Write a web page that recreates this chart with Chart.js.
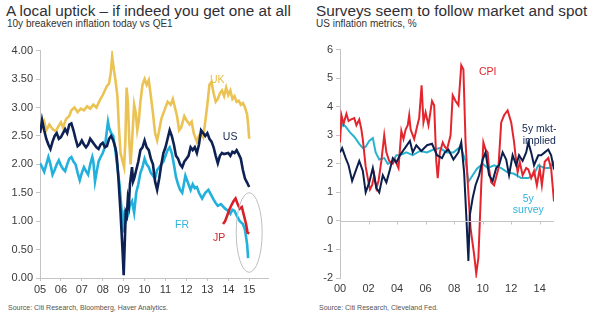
<!DOCTYPE html>
<html>
<head>
<meta charset="utf-8">
<script src="https://cdn.jsdelivr.net/npm/chart.js@4.4.0/dist/chart.umd.min.js"></script>
<style>
  body { margin: 0; background: #fff; font-family: "Liberation Sans", Arial, sans-serif; color: #333; }
  #wrap { position: relative; width: 600px; height: 322px; overflow: hidden; }
  .title { position: absolute; font-size: 15.3px; color: #2f2f35; white-space: nowrap; }
  .sub { position: absolute; font-size: 10px; color: #333; white-space: nowrap; }
  .src { position: absolute; font-size: 7px; color: #555; white-space: nowrap; }
  .box { position: absolute; top: 40px; width: 300px; height: 262px; }
</style>
</head>
<body>
<div id="wrap">
  <div class="title" style="left:6px;top:2px">A local uptick – if indeed you get one at all</div>
  <div class="sub" style="left:7px;top:18px">10y breakeven inflation today vs QE1</div>
  <div class="title" style="left:316px;top:2px">Surveys seem to follow market and spot</div>
  <div class="sub" style="left:316px;top:18px">US inflation metrics, %</div>
  <div class="box" style="left:0"><canvas id="left"></canvas></div>
  <div class="box" style="left:300px"><canvas id="right"></canvas></div>
  <div class="src" style="left:8px;top:304px">Source: Citi Research, Bloomberg, Haver Analytics.</div>
  <div class="src" style="left:319px;top:304px">Source: Citi Research, Cleveland Fed.</div>
</div>
<script>
// ---- left chart: 10y breakevens ----
const leftYearTicks = [2005, 2006, 2007, 2008, 2009, 2010, 2011, 2012, 2013, 2014, 2015];
const leftValueTicks = [0, 0.5, 1, 1.5, 2, 2.5, 3, 3.5, 4];

const ukYears = [2005.0, 2005.1, 2005.2, 2005.3, 2005.45, 2005.6, 2005.75, 2005.9, 2006.0, 2006.1, 2006.25, 2006.4, 2006.5, 2006.65, 2006.8, 2006.95,
  2007.1, 2007.25, 2007.4, 2007.55, 2007.7, 2007.85, 2008.0, 2008.1, 2008.2, 2008.3, 2008.38, 2008.45, 2008.52, 2008.6, 2008.7, 2008.78, 2008.85, 2008.95,
  2009.02, 2009.08, 2009.14, 2009.2, 2009.27, 2009.33, 2009.4, 2009.5, 2009.58, 2009.65, 2009.72, 2009.8, 2009.9, 2010.0, 2010.1, 2010.2, 2010.3, 2010.4,
  2010.5, 2010.6, 2010.7, 2010.8, 2010.95, 2011.1, 2011.25, 2011.35, 2011.45, 2011.55, 2011.65, 2011.75, 2011.9, 2012.0, 2012.15, 2012.25, 2012.35, 2012.5,
  2012.6, 2012.7, 2012.8, 2012.9, 2013.0, 2013.1, 2013.2, 2013.3, 2013.4, 2013.5, 2013.6, 2013.7, 2013.8, 2013.9, 2014.0, 2014.1, 2014.2, 2014.3, 2014.4,
  2014.5, 2014.6, 2014.7, 2014.8, 2014.9, 2014.95, 2015.0];
const ukValues = [2.72, 2.65, 2.75, 2.6, 2.7, 2.62, 2.58, 2.68, 2.74, 2.65, 2.8, 2.85, 2.95, 3.0, 2.92, 2.98,
  2.95, 3.02, 2.98, 3.05, 3.0, 3.12, 3.22, 3.3, 3.38, 3.42, 3.6, 3.9, 3.7, 3.5, 3.2, 2.6, 2.2, 2.05,
  1.95, 2.4, 3.35, 3.1, 2.4, 2.0, 2.4, 3.05, 2.9, 2.6, 2.75, 3.1, 3.4, 3.5, 3.4, 3.48, 3.2, 2.9,
  2.55, 2.42, 2.6, 2.8, 2.95, 3.1, 3.05, 3.15, 3.0, 2.85, 2.6, 2.65, 2.85, 2.78, 2.7, 2.75, 2.55, 2.4,
  2.5, 2.55, 2.48, 2.75, 3.05, 3.4, 3.45, 3.25, 3.1, 3.15, 3.25, 3.3, 3.2, 3.35, 3.22, 3.3, 3.15, 3.2, 3.1,
  3.12, 3.05, 3.08, 3.0, 2.88, 2.7, 2.45];

const usYears = [2005.0, 2005.05, 2005.1, 2005.2, 2005.3, 2005.4, 2005.5, 2005.6, 2005.7, 2005.8, 2005.9, 2006.0, 2006.1, 2006.2, 2006.3, 2006.4,
  2006.5, 2006.6, 2006.7, 2006.8, 2006.9, 2007.0, 2007.1, 2007.2, 2007.3, 2007.4, 2007.5, 2007.6, 2007.7, 2007.8, 2007.9, 2008.0, 2008.1, 2008.2,
  2008.3, 2008.4, 2008.5, 2008.6, 2008.65, 2008.7, 2008.75, 2008.8, 2008.85, 2008.9, 2008.95, 2009.0, 2009.05, 2009.1, 2009.15, 2009.2, 2009.25,
  2009.3, 2009.35, 2009.4, 2009.45, 2009.5, 2009.6, 2009.7, 2009.8, 2009.9, 2010.0, 2010.1, 2010.2, 2010.3, 2010.4, 2010.5, 2010.6, 2010.7, 2010.8,
  2010.9, 2011.0, 2011.1, 2011.2, 2011.3, 2011.4, 2011.5, 2011.6, 2011.7, 2011.8, 2011.9, 2012.0, 2012.1, 2012.2, 2012.3, 2012.4, 2012.5, 2012.6,
  2012.7, 2012.8, 2012.9, 2013.0, 2013.1, 2013.2, 2013.3, 2013.4, 2013.5, 2013.6, 2013.7, 2013.8, 2014.0, 2014.1, 2014.2, 2014.3, 2014.4, 2014.5,
  2014.6, 2014.7, 2014.8, 2014.9, 2015.0];
const usValues = [2.55, 2.65, 2.78, 2.6, 2.45, 2.35, 2.27, 2.4, 2.5, 2.55, 2.45, 2.48, 2.55, 2.62, 2.55, 2.7,
  2.72, 2.6, 2.45, 2.32, 2.35, 2.42, 2.35, 2.3, 2.35, 2.45, 2.4, 2.35, 2.3, 2.27, 2.35, 2.38, 2.3, 2.32,
  2.45, 2.5, 2.42, 2.3, 2.2, 2.0, 1.75, 1.45, 1.15, 0.8, 0.45, 0.05, 0.6, 1.15, 1.1, 1.4, 1.3,
  1.65, 1.8, 1.95, 1.7, 1.75, 1.9, 2.05, 2.25, 2.3, 2.42, 2.3, 2.25, 2.1, 2.0, 1.7, 1.55, 1.75, 2.0,
  2.2, 2.3, 2.45, 2.6, 2.5, 2.35, 2.15, 2.1, 2.0, 1.95, 2.05, 2.1, 2.15, 2.3, 2.25, 2.3, 2.2, 2.35,
  2.6, 2.55, 2.5, 2.55, 2.45, 2.4, 2.3, 2.15, 2.02, 2.15, 2.2, 2.18, 2.2, 2.15, 2.22, 2.2, 2.25, 2.18,
  2.1, 1.9, 1.75, 1.68, 1.6];

const frYears = [2005.0, 2005.1, 2005.2, 2005.3, 2005.4, 2005.5, 2005.6, 2005.7, 2005.8, 2005.9, 2006.0, 2006.1, 2006.2, 2006.3, 2006.4, 2006.5,
  2006.6, 2006.7, 2006.8, 2006.9, 2007.0, 2007.1, 2007.2, 2007.3, 2007.4, 2007.5, 2007.55, 2007.63, 2007.7, 2007.8, 2007.9, 2008.0, 2008.1, 2008.2,
  2008.25, 2008.3, 2008.4, 2008.5, 2008.6, 2008.7, 2008.8, 2008.9, 2008.95, 2009.0, 2009.05, 2009.1, 2009.2, 2009.3, 2009.4, 2009.5, 2009.6, 2009.7,
  2009.8, 2009.9, 2010.0, 2010.1, 2010.2, 2010.3, 2010.4, 2010.5, 2010.6, 2010.7, 2010.8, 2010.9, 2011.0, 2011.1, 2011.2, 2011.3, 2011.4, 2011.5,
  2011.6, 2011.7, 2011.8, 2011.9, 2011.95, 2012.1, 2012.2, 2012.3, 2012.4, 2012.5, 2012.6, 2012.75, 2012.9, 2013.05, 2013.2, 2013.3, 2013.4, 2013.5,
  2013.65, 2013.85, 2014.0, 2014.1, 2014.2, 2014.3, 2014.4, 2014.55, 2014.7, 2014.8, 2014.9, 2014.95];
const frValues = [2.02, 1.95, 1.87, 2.0, 2.13, 2.0, 1.82, 1.9, 2.0, 2.07, 1.98, 1.92, 1.88, 2.0, 2.1, 2.13,
  2.05, 2.0, 1.85, 1.72, 1.85, 1.95, 1.88, 1.82, 2.0, 2.13, 2.05, 1.7, 1.85, 2.05, 2.13, 2.2, 2.3, 2.6,
  2.75, 2.65, 2.55, 2.5, 2.25, 1.95, 1.65, 1.2, 0.95, 0.8, 1.2, 1.0, 1.1, 1.28, 1.35, 1.15, 1.5, 1.65,
  1.85, 1.95, 2.1, 2.0, 1.95, 1.85, 1.8, 1.75, 1.9, 1.95, 2.0, 2.05, 2.15, 2.25, 2.3, 2.2, 2.0, 1.78,
  1.65, 1.55, 1.5, 1.7, 1.8, 1.65, 1.55, 1.65, 1.58, 1.6, 1.5, 1.4, 1.5, 1.55, 1.45, 1.38, 1.32, 1.27,
  1.3, 1.22, 1.18, 1.13, 1.2, 1.18, 1.1, 1.0, 0.95, 0.85, 0.6, 0.35];

const jpYears = [2013.75, 2013.85, 2013.95, 2014.05, 2014.15, 2014.25, 2014.35, 2014.45, 2014.55, 2014.65, 2014.75, 2014.85, 2014.92, 2015.0];
const jpValues = [0.95, 1.0, 1.1, 1.2, 1.28, 1.35, 1.4, 1.3, 1.22, 1.25, 1.1, 0.95, 0.8, 0.78];

// ---- right chart: US inflation metrics ----
const rightYearTicks = [2000, 2002, 2004, 2006, 2008, 2010, 2012, 2014];
const rightValueTicks = [-2, -1, 0, 1, 2, 3, 4, 5, 6];

const cpiYears = [2000.0, 2000.1, 2000.25, 2000.45, 2000.6, 2000.75, 2001.0, 2001.15, 2001.35, 2001.5, 2001.6, 2001.8, 2002.0, 2002.1, 2002.25,
  2002.4, 2002.55, 2002.7, 2002.9, 2003.1, 2003.25, 2003.45, 2003.7, 2003.85, 2004.1, 2004.3, 2004.45, 2004.6, 2004.75, 2004.85, 2004.95, 2005.2,
  2005.4, 2005.55, 2005.72, 2005.85, 2006.0, 2006.2, 2006.45, 2006.6, 2006.75, 2006.85, 2007.0, 2007.2, 2007.35, 2007.5, 2007.75, 2007.9, 2008.1,
  2008.3, 2008.5, 2008.65, 2008.8, 2008.95, 2009.15, 2009.4, 2009.55, 2009.7, 2009.9, 2010.05, 2010.2, 2010.35, 2010.45, 2010.6, 2010.8, 2011.1,
  2011.3, 2011.5, 2011.75, 2012.0, 2012.2, 2012.3, 2012.45, 2012.6, 2012.8, 2013.05, 2013.2, 2013.4, 2013.6, 2013.8, 2014.0, 2014.15, 2014.35,
  2014.6, 2014.8, 2015.0];
const cpiValues = [2.75, 3.7, 3.4, 3.75, 3.5, 3.55, 3.6, 3.35, 3.55, 3.2, 2.85, 1.9, 1.35, 1.1, 1.25,
  1.6, 1.15, 1.4, 2.1, 3.0, 2.4, 2.1, 2.0, 2.15, 1.85, 3.15, 2.87, 3.2, 3.35, 3.7, 3.2, 2.87,
  3.3, 3.6, 4.75, 3.45, 3.8, 3.35, 4.2, 4.05, 2.07, 1.5, 2.4, 2.75, 2.6, 2.5, 3.0, 4.4, 4.2,
  4.05, 5.45, 5.3, 2.77, 1.37, -0.25, -1.17, -1.85, -1.3, 1.25, 2.75, 2.5, 2.4, 1.8, 1.35, 1.25, 1.83,
  3.45, 3.7, 3.87, 3.45, 2.77, 2.3, 1.7, 2.07, 1.6, 1.85, 1.8, 1.5, 1.75, 1.25, 1.83, 1.25, 2.07,
  2.2, 1.83, 0.68];

const surveyYears = [2000.0, 2000.2, 2000.4, 2000.7, 2001.0, 2001.35, 2001.6, 2001.8, 2002.05, 2002.3, 2002.5, 2002.75, 2003.1, 2003.35, 2003.7,
  2003.95, 2004.2, 2004.65, 2005.1, 2005.6, 2006.1, 2006.55, 2007.0, 2007.5, 2007.95, 2008.45, 2008.8, 2009.0, 2009.3, 2009.6, 2010.0, 2010.35,
  2010.8, 2011.3, 2011.75, 2012.2, 2012.7, 2013.2, 2013.55, 2013.9, 2014.35, 2014.7, 2015.0];
const surveyValues = [3.2, 3.4, 3.3, 3.1, 2.95, 2.7, 2.55, 2.6, 2.8, 2.9, 2.4, 2.15, 2.2, 2.0, 2.1,
  2.3, 2.3, 2.4, 2.3, 2.45, 2.4, 2.5, 2.55, 2.4, 2.4, 2.6, 2.1, 1.37, 1.6, 1.83, 2.0, 1.85,
  1.95, 1.85, 1.7, 1.65, 1.5, 1.5, 1.6, 1.95, 1.85, 1.85, 2.1];

const mktYears = [2000.0, 2000.15, 2000.4, 2000.6, 2000.85, 2001.1, 2001.35, 2001.6, 2001.8, 2002.05, 2002.3, 2002.55, 2002.75, 2003.0, 2003.25,
  2003.5, 2003.7, 2003.95, 2004.2, 2004.55, 2004.9, 2005.1, 2005.35, 2005.7, 2006.1, 2006.45, 2006.8, 2007.15, 2007.35, 2007.6, 2007.95, 2008.3,
  2008.5, 2008.7, 2008.85, 2009.0, 2009.1, 2009.3, 2009.5, 2009.75, 2010.0, 2010.2, 2010.45, 2010.7, 2010.95, 2011.15, 2011.4, 2011.65, 2011.85,
  2012.1, 2012.35, 2012.55, 2012.8, 2013.05, 2013.2, 2013.4, 2013.6, 2013.9, 2014.1, 2014.35, 2014.6, 2014.8, 2015.0];
const mktValues = [2.4, 2.55, 2.2, 1.95, 1.4, 1.75, 2.1, 1.75, 1.0, 1.35, 1.85, 1.15, 1.0, 1.6, 1.35,
  1.8, 2.2, 2.05, 2.3, 2.55, 2.8, 2.4, 2.65, 2.45, 2.65, 2.7, 2.3, 2.2, 2.4, 2.5, 2.15, 2.4,
  2.75, 1.7, 0.2, -1.4, 0.2, 0.8, 1.25, 1.6, 2.15, 2.4, 1.6, 1.4, 1.85, 1.95, 2.4, 2.15, 1.6,
  2.3, 1.95, 2.3, 2.1, 2.4, 2.75, 2.4, 1.95, 2.3, 2.3, 2.4, 2.5, 2.3, 1.8];

const axisGrey = '#c4c4c4';
Chart.defaults.font.family = '"Liberation Sans", Arial, sans-serif';
Chart.defaults.font.size = 11;
Chart.defaults.color = '#3a3a3a';

function pairs(xs, ys) {
    return xs.map((x, i) => ({x: x, y: ys[i]}));
}

// text labels, ellipse and zero line drawn in data coordinates
const notesPlugin = {
    id: 'notes',
    afterDatasetsDraw(chart, args, opts) {
        const ctx = chart.ctx;
        const xs = chart.scales.x, ys = chart.scales.y;
        ctx.save();
        if (opts.zeroLine) {
            const y0 = Math.round(ys.getPixelForValue(0)) + 0.5;
            ctx.strokeStyle = axisGrey;
            ctx.lineWidth = 1;
            ctx.beginPath();
            ctx.moveTo(chart.chartArea.left, y0);
            ctx.lineTo(chart.chartArea.right, y0);
            opts.zeroTicks.forEach(v => {
                const x = Math.round(xs.getPixelForValue(v)) + 0.5;
                ctx.moveTo(x, y0);
                ctx.lineTo(x, y0 + 3);
            });
            ctx.stroke();
        }
        if (opts.ellipse) {
            const e = opts.ellipse;
            const cx = xs.getPixelForValue(e.x), cy = ys.getPixelForValue(e.y);
            const rx = Math.abs(xs.getPixelForValue(e.x + e.rx) - cx);
            const ry = Math.abs(ys.getPixelForValue(e.y + e.ry) - cy);
            ctx.strokeStyle = '#bdbdbd';
            ctx.lineWidth = 1;
            ctx.beginPath();
            ctx.ellipse(cx, cy, rx, ry, 0, 0, Math.PI * 2);
            ctx.stroke();
        }
        ctx.font = '10.5px "Liberation Sans", Arial, sans-serif';
        ctx.textAlign = 'center';
        ctx.textBaseline = 'middle';
        (opts.labels || []).forEach(l => {
            ctx.fillStyle = l.color;
            ctx.fillText(l.text, xs.getPixelForValue(l.x), ys.getPixelForValue(l.y));
        });
        ctx.restore();
    }
};

function lineSet(label, xs, ys, color, width) {
    return {
        label: label,
        data: pairs(xs, ys),
        borderColor: color,
        backgroundColor: color,
        borderWidth: width,
        pointRadius: 0,
        tension: 0
    };
}

function baseOptions(xMin, xMax, xTicks, yMin, yMax, yTicks, yLabel, padding) {
    return {
        responsive: true,
        maintainAspectRatio: false,
        animation: false,
        layout: {padding: padding},
        plugins: {legend: {display: false}, tooltip: {enabled: false}},
        scales: {
            x: {
                type: 'linear',
                min: xMin,
                max: xMax,
                afterBuildTicks: s => { s.ticks = xTicks.map(v => ({value: v})); },
                afterFit: s => { s.height = 24; },
                ticks: {
                    padding: 2,
                    maxRotation: 0,
                    autoSkip: false,
                    callback: v => String(v).slice(2)
                },
                grid: {display: true, drawOnChartArea: false, tickLength: 3, color: axisGrey},
                border: {color: axisGrey}
            },
            y: {
                min: yMin,
                max: yMax,
                afterBuildTicks: s => { s.ticks = yTicks.map(v => ({value: v})); },
                afterFit: s => { s.width = 40; },
                ticks: {padding: 3, callback: yLabel},
                grid: {display: true, drawOnChartArea: false, tickLength: 4, color: axisGrey},
                border: {color: axisGrey}
            }
        }
    };
}

const leftOptions = baseOptions(2005, 2015.9, leftYearTicks, 0, 4, leftValueTicks,
    v => v.toFixed(2), {top: 10.7, right: 32, bottom: 0, left: 0});
leftOptions.plugins.notes = {
    labels: [
        {text: 'UK', x: 2013.47, y: 3.49, color: '#e7bd45'},
        {text: 'US', x: 2014.09, y: 2.48, color: '#13264f'},
        {text: 'FR', x: 2011.79, y: 0.93, color: '#33b3da'},
        {text: 'JP', x: 2013.56, y: 0.70, color: '#d4242b'}
    ],
    ellipse: {x: 2015.0, y: 0.8, rx: 0.62, ry: 0.70}
};

new Chart(document.getElementById('left'), {
    type: 'line',
    data: {
        datasets: [
            lineSet('JP', jpYears, jpValues, '#d7202a', 2.6),
            lineSet('US', usYears, usValues, '#0d2253', 2.6),
            lineSet('FR', frYears, frValues, '#22b0dc', 2.6),
            lineSet('UK', ukYears, ukValues, '#ebc354', 2.6)
        ]
    },
    options: leftOptions,
    plugins: [notesPlugin]
});

const rightOptions = baseOptions(2000, 2015, rightYearTicks, -2, 6, rightValueTicks,
    v => String(v), {top: 7, right: 46, bottom: 0, left: 0});
rightOptions.scales.x.grid.display = false;
rightOptions.scales.x.border.display = false;
rightOptions.scales.x.ticks.padding = 1;
rightOptions.plugins.notes = {
    zeroLine: true,
    zeroTicks: rightYearTicks,
    labels: [
        {text: 'CPI', x: 2010.35, y: 5.2, color: '#e0262d'},
        {text: '5y mkt-', x: 2013.97, y: 3.22, color: '#13264f'},
        {text: 'implied', x: 2013.97, y: 2.8, color: '#13264f'},
        {text: '5y', x: 2013.2, y: 0.78, color: '#33b3da'},
        {text: 'survey', x: 2013.2, y: 0.37, color: '#33b3da'}
    ]
};

new Chart(document.getElementById('right'), {
    type: 'line',
    data: {
        datasets: [
            lineSet('5y mkt-implied', mktYears, mktValues, '#0c1e4c', 2),
            lineSet('CPI', cpiYears, cpiValues, '#e3262d', 2),
            lineSet('5y survey', surveyYears, surveyValues, '#2ab3cf', 2)
        ]
    },
    options: rightOptions,
    plugins: [notesPlugin]
});
</script>
</body>
</html>
